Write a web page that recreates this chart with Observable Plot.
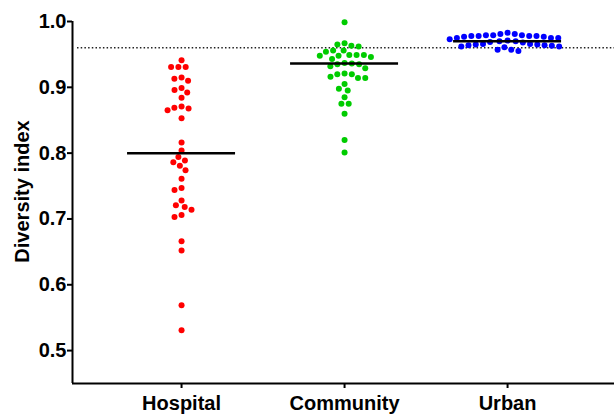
<!DOCTYPE html>
<html><head><meta charset="utf-8">
<script src="https://cdn.jsdelivr.net/npm/d3@7"></script>
<script src="https://cdn.jsdelivr.net/npm/@observablehq/plot@0.6"></script>
<style>body{margin:0;background:#fff}#chart svg{overflow:visible}</style>
</head><body><div id="chart"></div>
<script>
// ---- data ----
const categories = ["Hospital", "Community", "Urban"];
const colors = ["#ff0000", "#00cc00", "#0000ff"];
const hospital = [0.941, 0.931, 0.931, 0.931, 0.915, 0.913, 0.910, 0.899, 0.896, 0.892, 0.884,
  0.871, 0.869, 0.868, 0.865, 0.853, 0.816, 0.804, 0.794, 0.789, 0.786, 0.781, 0.774, 0.761,
  0.747, 0.744, 0.728, 0.721, 0.718, 0.714, 0.706, 0.703, 0.666, 0.652, 0.569, 0.531];
const community = [0.999, 0.967, 0.965, 0.963, 0.962, 0.956, 0.956, 0.954, 0.949, 0.949, 0.949,
  0.948, 0.948, 0.946, 0.943, 0.937, 0.936, 0.935, 0.935, 0.932, 0.929, 0.921, 0.920, 0.920,
  0.916, 0.914, 0.914, 0.905, 0.898, 0.895, 0.885, 0.875, 0.875, 0.860, 0.820, 0.801];
const urban = [0.983, 0.981, 0.981, 0.979, 0.979, 0.979, 0.978, 0.978, 0.978, 0.978, 0.977,
  0.977, 0.975, 0.975, 0.975, 0.973, 0.971, 0.970, 0.970, 0.969, 0.968, 0.966, 0.966, 0.965,
  0.965, 0.964, 0.964, 0.963, 0.962, 0.962, 0.961, 0.957, 0.957, 0.955];
const medians = [0.800, 0.936, 0.970];
const referenceLine = 0.96;
const yTicks = [0.5, 0.6, 0.7, 0.8, 0.9, 1.0];
const yLabel = "Diversity index";

// ---- layout ----
const W = 614, H = 414, mL = 72, mR = 0, mT = 21, mB = 31;
const yDomain = [0.45, 1.0];
const xDomain = [-0.669, 2.656];
const pxPerY = (H - mT - mB) / (yDomain[1] - yDomain[0]);
const pxPerX = (W - mL - mR) / (xDomain[1] - xDomain[0]);
const D = 7.3;          // beeswarm collision distance, px
const halfMedian = 54 / pxPerX;
const font = "'Liberation Sans', Arial, Helvetica, sans-serif";

function swarm(values) {
  const order = d3.range(values.length).sort((a, b) => values[b] - values[a]);
  const placed = [], off = new Array(values.length);
  for (const i of order) {
    const y = values[i] * pxPerY;
    const iv = [];
    for (const p of placed) {
      const dy = Math.abs(p.y - y);
      if (dy < D) { const h = Math.sqrt(D * D - dy * dy); iv.push([p.x - h, p.x + h]); }
    }
    const cands = [0];
    for (const [a, b] of iv) cands.push(a, b);
    cands.sort((a, b) => Math.abs(a) - Math.abs(b));
    let x = 0;
    for (const c of cands) {
      if (iv.every(([a, b]) => c <= a + 1e-9 || c >= b - 1e-9)) { x = c; break; }
    }
    placed.push({x, y});
    off[i] = x;
  }
  return off;
}

const groups = [hospital, community, urban];
const points = groups.flatMap((vals, i) => {
  const off = swarm(vals);
  return vals.map((v, j) => ({cat: categories[i], i, value: v, x: i + off[j] / pxPerX}));
});
const medianRows = medians.map((m, i) => ({i, median: m}));

const chart = Plot.plot({
  width: W, height: H,
  marginLeft: mL, marginRight: mR, marginTop: mT, marginBottom: mB,
  style: {fontFamily: font, background: "#fff", color: "#000"},
  x: {domain: xDomain},
  y: {domain: yDomain},
  color: {domain: categories, range: colors},
  marks: [
    Plot.ruleY([referenceLine], {stroke: "#222", strokeWidth: 1.5, strokeDasharray: "1.5,2.2", insetLeft: 5}),
    Plot.dot(points, {x: "x", y: "value", r: 3, fill: "cat", stroke: null}),
    Plot.ruleY(medianRows, {y: "median", x1: d => d.i - halfMedian, x2: d => d.i + halfMedian, stroke: "#000", strokeWidth: 2.5}),
    Plot.ruleX([xDomain[0]], {y1: yDomain[0], y2: yDomain[1], stroke: "#000", strokeWidth: 2}),
    Plot.ruleY([yDomain[0]], {stroke: "#000", strokeWidth: 2}),
    Plot.axisY({ticks: yTicks, tickFormat: ".1f", tickSize: 5, tickPadding: 1, fontSize: 20, fontWeight: "bold", strokeWidth: 2, label: null}),
    Plot.axisX({ticks: [0, 1, 2], tickFormat: i => categories[i], tickSize: 5, tickPadding: 7, fontSize: 20, fontWeight: "bold", strokeWidth: 2, label: null}),
    Plot.text([yLabel], {frameAnchor: "left", text: d => d, rotate: -90, dx: -50, dy: -11, fontSize: 20, fontWeight: "bold", textAnchor: "middle", lineAnchor: "middle"})
  ]
});
document.getElementById("chart").appendChild(chart);
</script>
</body></html>
